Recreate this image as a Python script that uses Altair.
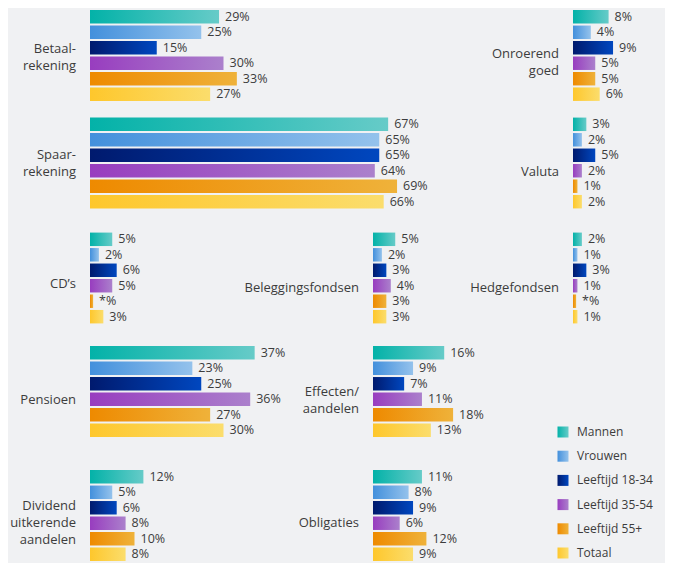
import altair as alt
import pandas as pd

# ---------------- data ----------------
series = ["Mannen", "Vrouwen", "Leeftijd 18-34", "Leeftijd 35-54", "Leeftijd 55+", "Totaal"]
categories = [
    "Betaal-\nrekening", "Spaar-\nrekening", "CD\u2019s", "Pensioen", "Dividend\nuitkerende\naandelen",
    "Beleggingsfondsen", "Effecten/\naandelen", "Obligaties",
    "Onroerend\ngoed", "Valuta", "Hedgefondsen",
]
mannen         = [29, 67, 5, 37, 12, 5, 16, 11, 8, 3, 2]
vrouwen        = [25, 65, 2, 23, 5, 2, 9, 8, 4, 2, 1]
leeftijd_18_34 = [15, 65, 6, 25, 6, 3, 7, 9, 9, 5, 3]
leeftijd_35_54 = [30, 64, 5, 36, 8, 4, 11, 6, 5, 2, 1]
leeftijd_55    = [33, 69, 0.7, 27, 10, 3, 18, 12, 5, 1, 0.7]   # 0.7 = "*" (< 1%)
totaal         = [27, 66, 3, 30, 8, 3, 13, 9, 6, 2, 1]

values = [mannen, vrouwen, leeftijd_18_34, leeftijd_35_54, leeftijd_55, totaal]
rows = []
for s, vals in zip(series, values):
    for c, v in zip(categories, vals):
        rows.append({"cat": c, "series": s, "value": v,
                     "label": "*%" if v < 1 else f"{v:.0f}%"})
df = pd.DataFrame(rows)

# ---------------- style ----------------
FONT = "Open Sans"
TXT = "#3c3c3c"
BG = "#f0f1f3"
PX = 4.45  # pixels per percent
grad_colors = {
    "Mannen": ("#03b2a8", "#66cbc8"),
    "Vrouwen": ("#4390dc", "#94c2ec"),
    "Leeftijd 18-34": ("#001a6e", "#0047bf"),
    "Leeftijd 35-54": ("#983dbf", "#ab80cc"),
    "Leeftijd 55+": ("#ee8a00", "#efb23a"),
    "Totaal": ("#fec72c", "#fbdd6c"),
}


def grad(s):
    c1, c2 = grad_colors[s]
    return alt.Gradient(
        gradient="linear",
        stops=[alt.GradientStop(color=c1, offset=0), alt.GradientStop(color=c2, offset=1)],
        x1=0, x2=1, y1=0, y2=0,
    )


BAND = 93


def bars(cat, width, height, r0):
    d = df[df["cat"] == cat]
    base = alt.Chart(d).encode(
        y=alt.Y("series:N", axis=None,
                scale=alt.Scale(domain=series, range=[r0, r0 + BAND],
                                paddingInner=0.13, paddingOuter=0.07)),
        x=alt.X("value:Q", axis=None,
                scale=alt.Scale(domain=[0, width / PX], nice=False, zero=True)),
    )
    layers = [base.transform_filter(alt.datum.series == s).mark_bar(color=grad(s)) for s in series]
    text = base.mark_text(align="left", baseline="middle", dx=6, font=FONT,
                          fontSize=12.5, color=TXT).encode(text="label:N")
    return alt.layer(*layers, text).properties(width=width, height=height)


def label(cat, width, height, y_first):
    # y_first: centre of the first text line
    return alt.Chart(pd.DataFrame({"t": [cat]})).mark_text(
        align="right", baseline="middle", lineBreak="\n", lineHeight=17,
        font=FONT, fontSize=13, color=TXT,
    ).encode(text="t:N", x=alt.value(width - 14), y=alt.value(y_first)).properties(width=width, height=height)


def row(*charts):
    return alt.hconcat(*charts, spacing=0)


C = categories
# row 1
h1, o1 = 108, 1
r1 = row(label(C[0], 82, h1, 41), bars(C[0], 380, h1, o1),
         label(C[8], 103, h1, 46), bars(C[8], 92, h1, o1))
# row 2
h2, o2 = 115, 0.5
r2 = row(label(C[1], 82, h2, 39), bars(C[1], 380, h2, o2),
         label(C[9], 103, h2, 56), bars(C[9], 92, h2, o2))
# row 3
h3, o3 = 113, 0.5
r3 = row(label(C[2], 82, h3, 53), bars(C[2], 145, h3, o3),
         label(C[5], 138, h3, 56.5), bars(C[5], 87, h3, o3),
         label(C[10], 113, h3, 57), bars(C[10], 92, h3, o3))
# row 4
h4, o4 = 124, 1
r4 = row(label(C[3], 82, h4, 56), bars(C[3], 206, h4, o4),
         label(C[6], 77, h4, 48), bars(C[6], 177, h4, o4))
# row 5
h5, o5 = 95, 1
r5 = row(label(C[4], 82, h5, 38), bars(C[4], 200, h5, o5),
         label(C[7], 83, h5, 55), bars(C[7], 177, h5, o5))

# legend
leg_df = pd.DataFrame({"series": series})
leg_base = alt.Chart(leg_df).encode(
    y=alt.Y("series:N", axis=None,
            scale=alt.Scale(type="point", domain=series, range=[88, 209], padding=0)),
)
leg_layers = [leg_base.transform_filter(alt.datum.series == s)
              .mark_square(size=121, color=grad(s), opacity=1)
              .encode(x=alt.value(13)) for s in series]
leg_text = leg_base.mark_text(align="left", baseline="middle", font=FONT, fontSize=12,
                              color=TXT).encode(x=alt.value(27), text="series:N")
legend = alt.layer(*leg_layers, leg_text).properties(width=115, height=h4 + h5)

block45 = alt.hconcat(alt.vconcat(r4, r5, spacing=0), legend, spacing=0)

chart = (
    alt.vconcat(r1, r2, r3, block45, spacing=0)
    .properties(padding=0, background=BG)
    .configure(font=FONT)
    .configure_view(strokeWidth=0)
)

chart.save("out.html", embed_options={"renderer": "svg", "actions": False})
